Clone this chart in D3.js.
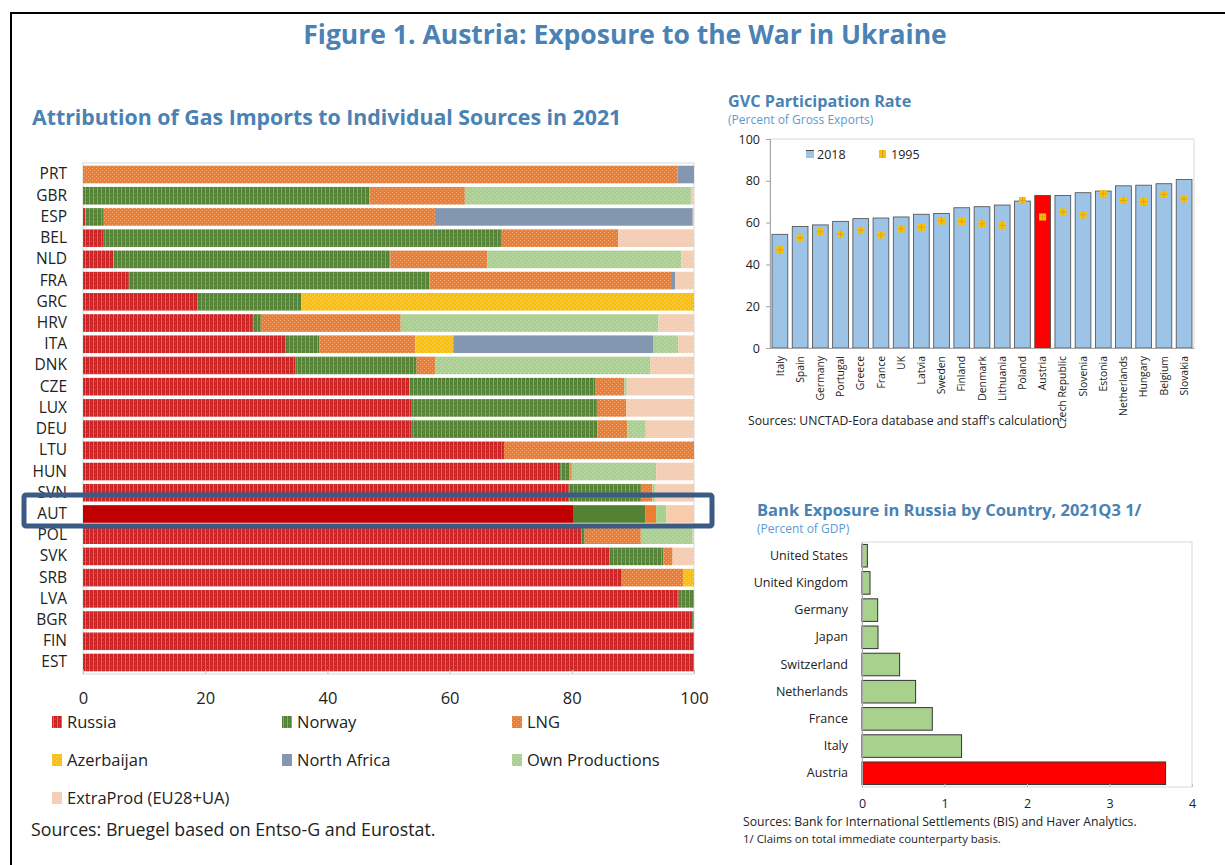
<!DOCTYPE html>
<meta charset="utf-8">
<style>
  body { margin: 0; background: #fff; }
  text { font-family: "Open Sans", sans-serif; }
</style>
<script src="https://d3js.org/d3.v7.min.js"></script>
<div id="fig"></div>
<script>

// ---- gas imports data (share of imports, %) ----
var gasCountries = ["PRT","GBR","ESP","BEL","NLD","FRA","GRC","HRV","ITA","DNK","CZE","LUX",
                    "DEU","LTU","HUN","SVN","AUT","POL","SVK","SRB","LVA","BGR","FIN","EST"];
var gasSources = ["Russia","Norway","LNG","Azerbaijan","North Africa","Own Productions","ExtraProd (EU28+UA)"];
var russia      = [0,0,0.4,3.4,5.0,7.5,18.8,27.8,33.2,34.8,53.4,53.7,53.8,68.9,78.1,79.5,80.2,81.5,86.1,88.2,97.5,99.7,100,100];
var norway      = [0,46.9,3.0,65.0,45.3,49.2,16.9,1.3,5.5,19.8,30.5,30.4,30.4,0,1.5,11.8,11.8,0.6,8.9,0,2.5,0.3,0,0];
var lng         = [97.3,15.6,54.2,19.2,15.9,39.7,0,22.9,15.7,3.1,4.7,4.8,4.9,31.1,0.4,1.9,1.8,9.2,1.5,10.1,0,0,0,0];
var azerbaijan  = [0,0,0,0,0,0,64.3,0,6.2,0,0,0,0,0,0,0,0,0,0,1.7,0,0,0,0];
var northAfrica = [2.7,0,42.2,0,0,0.5,0,0,32.7,0,0,0,0,0,0,0,0,0,0,0,0,0,0,0];
var ownProd     = [0,37.0,0,0,31.7,0,0,42.2,4.1,35.2,0.4,0,3.0,0,13.8,0.4,1.7,8.5,0,0,0,0,0,0];
var extraProd   = [0,0.5,0.2,12.4,2.1,3.1,0,5.8,2.6,7.1,11.0,11.1,7.9,0,6.2,6.4,4.5,0.2,3.5,0,0,0,0,0];

// ---- GVC participation (% of gross exports) ----
var gvcCountries = ["Italy","Spain","Germany","Portugal","Greece","France","UK","Latvia","Sweden","Finland",
                    "Denmark","Lithuania","Poland","Austria","Czech Republic","Slovenia","Estonia",
                    "Netherlands","Hungary","Belgium","Slovakia"];
var gvc2018 = [54.4,58.1,58.9,60.6,61.9,62.2,62.7,64.0,64.4,67.1,67.6,68.4,70.3,73.0,73.0,74.3,75.1,77.6,77.9,78.6,80.6];
var gvc1995 = [47.0,52.7,55.6,54.4,56.3,54.1,57.0,57.8,60.8,60.6,59.4,58.6,70.6,62.7,65.1,63.7,73.8,70.6,70.0,73.5,71.4];

// ---- bank exposure (% of GDP) ----
var bankCountries = ["United States","United Kingdom","Germany","Japan","Switzerland","Netherlands","France","Italy","Austria"];
var bankValues = [0.065,0.097,0.19,0.194,0.456,0.65,0.852,1.207,3.68];

var blue = "#4A82B4", lightBlue = "#5B9BD5";

var svg = d3.select("#fig").append("svg")
    .attr("width", 1225)
    .attr("height", 865);

svg.append("rect").attr("width", 1225).attr("height", 865).attr("fill", "#fff");

// page frame (top + left edges only visible)
svg.append("path")
    .attr("d", "M11,865 V13 H1225")
    .attr("fill", "none")
    .attr("stroke", "#000")
    .attr("stroke-width", 2);

svg.append("text")
    .attr("x", 625).attr("y", 44)
    .attr("text-anchor", "middle")
    .attr("font-size", 26.5).attr("font-weight", "bold")
    .attr("fill", blue)
    .text("Figure 1. Austria: Exposure to the War in Ukraine");

// ================= left: stacked gas bars =================
var solidColors = ["#C00000","#548235","#ED7D31","#FFC000","#8497B0","#A9D18E","#F8CBAD"];
var patternKind = ["stripe","stripe","check","check","solid","check","check"];

var defs = svg.append("defs");
solidColors.forEach(function(c, i) {
  var p = defs.append("pattern")
      .attr("id", "pat" + i)
      .attr("patternUnits", "userSpaceOnUse")
      .attr("width", 4).attr("height", 4);
  p.append("rect").attr("width", 4).attr("height", 4).attr("fill", i == 0 ? "#CC2424" : c);
  if (patternKind[i] == "stripe") {
    p.append("rect").attr("x", 1).attr("width", 1).attr("height", 4).attr("fill", "#fff").attr("opacity", 0.3);
    p.append("rect").attr("x", 3).attr("y", 1).attr("width", 1).attr("height", 1).attr("fill", "#fff").attr("opacity", 0.2);
  } else if (patternKind[i] == "check") {
    p.append("rect").attr("x", 0).attr("y", 0).attr("width", 1).attr("height", 1).attr("fill", "#fff").attr("opacity", 0.35);
    p.append("rect").attr("x", 2).attr("y", 2).attr("width", 1).attr("height", 1).attr("fill", "#fff").attr("opacity", 0.35);
  }
});

svg.append("text")
    .attr("x", 32).attr("y", 125)
    .attr("font-size", 21.3).attr("font-weight", "bold")
    .attr("fill", blue)
    .text("Attribution of Gas Imports to Individual Sources in 2021");

var gasRows = gasCountries.map(function(c, i) {
  return {country: c, "Russia": russia[i], "Norway": norway[i], "LNG": lng[i],
          "Azerbaijan": azerbaijan[i], "North Africa": northAfrica[i],
          "Own Productions": ownProd[i], "ExtraProd (EU28+UA)": extraProd[i]};
});
var stacked = d3.stack().keys(gasSources)(gasRows);

var gx = d3.scaleLinear().domain([0, 100]).range([83, 694]);
var gy = d3.scaleBand().domain(gasCountries).range([164, 673]).paddingInner(0.17).paddingOuter(0.08);

svg.append("rect")
    .attr("x", 83).attr("y", 163).attr("width", 611).attr("height", 511)
    .attr("fill", "none").attr("stroke", "#d9d9d9");

svg.append("g").selectAll("g")
  .data(stacked)
  .join("g")
  .each(function(layer, k) {
    d3.select(this).selectAll("rect")
      .data(layer)
      .join("rect")
        .attr("x", function(d) { return gx(d[0]); })
        .attr("y", function(d) { return gy(d.data.country); })
        .attr("width", function(d) { return gx(d[1]) - gx(d[0]); })
        .attr("height", gy.bandwidth())
        .attr("fill", function(d) { return d.data.country == "AUT" ? solidColors[k] : "url(#pat" + k + ")"; });
  });

var gyAxis = svg.append("g")
    .attr("transform", "translate(83,0)")
    .call(d3.axisLeft(gy).tickSize(0).tickPadding(16));
gyAxis.select(".domain").remove();
gyAxis.selectAll("text").attr("font-size", 15.5).attr("fill", "#222").attr("font-family", "Open Sans");

var gxAxis = svg.append("g")
    .attr("transform", "translate(0,674)")
    .call(d3.axisBottom(gx).tickValues([0,20,40,60,80,100]).tickSize(-4).tickPadding(18));
gxAxis.select(".domain").remove();
gxAxis.selectAll("line").attr("stroke", "#bfbfbf");
gxAxis.selectAll("text").attr("font-size", 16.5).attr("fill", "#222").attr("font-family", "Open Sans");

// AUT highlight box
svg.append("rect")
    .attr("x", 24).attr("y", 495).attr("width", 688).attr("height", 31)
    .attr("rx", 2)
    .attr("fill", "none").attr("stroke", "#3B5A84").attr("stroke-width", 5);

// legend
var legCols = [52, 282, 512], legRows = [722, 760, 798];
var legend = svg.append("g").selectAll("g")
  .data(gasSources)
  .join("g")
    .attr("transform", function(d, i) { return "translate(" + legCols[i % 3] + "," + legRows[Math.floor(i / 3)] + ")"; });
legend.append("rect")
    .attr("x", 0).attr("y", -6).attr("width", 10).attr("height", 12)
    .attr("fill", function(d, i) { return "url(#pat" + i + ")"; });
legend.append("text")
    .attr("x", 15).attr("y", 6)
    .attr("font-size", 16.5).attr("fill", "#222")
    .text(function(d) { return d; });

svg.append("text")
    .attr("x", 31).attr("y", 836)
    .attr("font-size", 17.8).attr("fill", "#222")
    .text("Sources: Bruegel based on Entso-G and Eurostat.");

// ================= top right: GVC participation =================
svg.append("text")
    .attr("x", 728).attr("y", 107)
    .attr("font-size", 16.2).attr("font-weight", "bold").attr("fill", blue)
    .text("GVC Participation Rate");
svg.append("text")
    .attr("x", 728).attr("y", 124)
    .attr("font-size", 12).attr("fill", lightBlue)
    .text("(Percent of Gross Exports)");

var vx = d3.scaleBand().domain(gvcCountries).range([770, 1194]).paddingInner(0.22).paddingOuter(0.1);
var vy = d3.scaleLinear().domain([0, 100]).range([348, 139]);

svg.append("rect")
    .attr("x", 770).attr("y", 139).attr("width", 424).attr("height", 209)
    .attr("fill", "none").attr("stroke", "#d9d9d9");

svg.append("g").selectAll("rect")
  .data(gvcCountries)
  .join("rect")
    .attr("x", function(d) { return vx(d); })
    .attr("y", function(d, i) { return vy(gvc2018[i]); })
    .attr("width", vx.bandwidth())
    .attr("height", function(d, i) { return vy(0) - vy(gvc2018[i]); })
    .attr("fill", function(d) { return d == "Austria" ? "#FF0000" : "#9DC3E6"; })
    .attr("stroke", "#4a4a4a").attr("stroke-width", 0.8);

var marks = svg.append("g").selectAll("g")
  .data(gvcCountries)
  .join("g")
    .attr("transform", function(d, i) { return "translate(" + (vx(d) + vx.bandwidth() / 2) + "," + vy(gvc1995[i]) + ")"; });
marks.append("rect").attr("x", -3.5).attr("y", -3.5).attr("width", 7).attr("height", 7).attr("fill", "#FFC000");
marks.append("path").attr("d", "M-3.5,0H3.5M0,-3.5V3.5").attr("stroke", "#C9A227").attr("stroke-width", 0.8);

var vyAxis = svg.append("g")
    .attr("transform", "translate(770,0)")
    .call(d3.axisLeft(vy).tickValues([0,20,40,60,80,100]).tickSize(4).tickPadding(6));
vyAxis.select(".domain").attr("stroke", "#a6a6a6");
vyAxis.selectAll("line").attr("stroke", "#a6a6a6");
vyAxis.selectAll("text").attr("font-size", 12.5).attr("fill", "#222").attr("font-family", "Open Sans");

var vxAxis = svg.append("g")
    .attr("transform", "translate(0,348)")
    .call(d3.axisBottom(vx).tickSize(0));
vxAxis.select(".domain").attr("stroke", "#a6a6a6");
vxAxis.selectAll("text")
    .attr("transform", "rotate(-90)")
    .attr("x", -8).attr("y", 0).attr("dy", "0.35em")
    .style("text-anchor", "end")
    .attr("font-size", 10.4).attr("fill", "#222").attr("font-family", "Open Sans");

// legend
svg.append("rect").attr("x", 806).attr("y", 150).attr("width", 8).attr("height", 8).attr("fill", "#9DC3E6");
svg.append("path").attr("d", "M806,150.5H814").attr("stroke", "#4a4a4a");
svg.append("text").attr("x", 817).attr("y", 159).attr("font-size", 12.5).attr("fill", "#222").text("2018");
svg.append("rect").attr("x", 879).attr("y", 150).attr("width", 7).attr("height", 8).attr("fill", "#FFC000");
svg.append("path").attr("d", "M882.5,150V158").attr("stroke", "#C9A227");
svg.append("text").attr("x", 891).attr("y", 159).attr("font-size", 12.5).attr("fill", "#222").text("1995");

svg.append("text")
    .attr("x", 748).attr("y", 425)
    .attr("font-size", 12.2).attr("fill", "#222")
    .text("Sources: UNCTAD-Eora database and staff's calculation");

// ================= bottom right: bank exposure =================
svg.append("text")
    .attr("x", 757).attr("y", 516)
    .attr("font-size", 16.5).attr("font-weight", "bold").attr("fill", blue)
    .text("Bank Exposure in Russia by Country, 2021Q3 1/");
svg.append("text")
    .attr("x", 757).attr("y", 533)
    .attr("font-size", 12).attr("fill", lightBlue)
    .text("(Percent of GDP)");

var bx = d3.scaleLinear().domain([0, 4]).range([862, 1192]);
var by = d3.scaleBand().domain(bankCountries).range([542, 787]).paddingInner(0.17).paddingOuter(0.09);

svg.append("rect")
    .attr("x", 862).attr("y", 542).attr("width", 330).attr("height", 245)
    .attr("fill", "none").attr("stroke", "#d9d9d9");

svg.append("g").selectAll("rect")
  .data(bankCountries)
  .join("rect")
    .attr("x", bx(0))
    .attr("y", function(d) { return by(d); })
    .attr("width", function(d, i) { return bx(bankValues[i]) - bx(0); })
    .attr("height", by.bandwidth())
    .attr("fill", function(d) { return d == "Austria" ? "#FF0000" : "#A9D18E"; })
    .attr("stroke", "#333").attr("stroke-width", 1);

var byAxis = svg.append("g")
    .attr("transform", "translate(862,0)")
    .call(d3.axisLeft(by).tickSize(0).tickPadding(14));
byAxis.select(".domain").attr("stroke", "#a6a6a6");
byAxis.selectAll("text").attr("font-size", 12.5).attr("fill", "#222").attr("font-family", "Open Sans");

var bxAxis = svg.append("g")
    .attr("transform", "translate(0,787)")
    .call(d3.axisBottom(bx).tickValues([0,1,2,3,4]).tickFormat(d3.format("d")).tickSize(-3).tickPadding(12));
bxAxis.select(".domain").remove();
bxAxis.selectAll("line").attr("stroke", "#bfbfbf");
bxAxis.selectAll("text").attr("font-size", 12.5).attr("fill", "#222").attr("font-family", "Open Sans");

svg.append("text")
    .attr("x", 743).attr("y", 826)
    .attr("font-size", 12.2).attr("fill", "#222")
    .text("Sources: Bank for International Settlements (BIS) and Haver Analytics.");
svg.append("text")
    .attr("x", 743).attr("y", 843)
    .attr("font-size", 11.4).attr("fill", "#222")
    .text("1/ Claims on total immediate counterparty basis.");

</script>
